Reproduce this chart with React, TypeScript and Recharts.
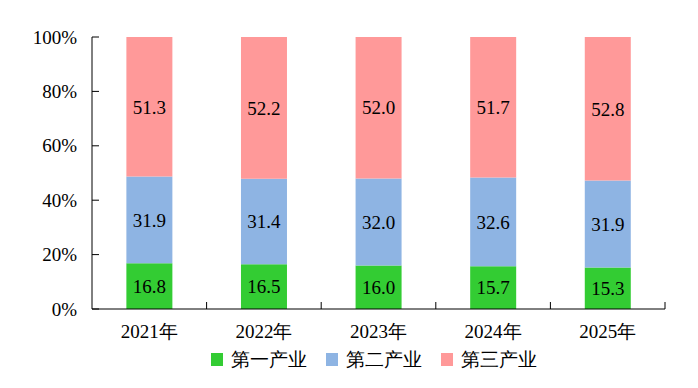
import React from 'react';
import { BarChart, Bar, XAxis, YAxis, LabelList, Legend } from 'recharts';

const categories = ['2021年', '2022年', '2023年', '2024年', '2025年'];
const primary = [16.8, 16.5, 16.0, 15.7, 15.3];
const secondary = [31.9, 31.4, 32.0, 32.6, 31.9];
const tertiary = [51.3, 52.2, 52.0, 51.7, 52.8];
const yTicks = [0, 0.2, 0.4, 0.6, 0.8, 1];
const seriesNames = ['第一产业', '第二产业', '第三产业'];
const seriesKeys = ['primary', 'secondary', 'tertiary'];
const colors = ['#33CC33', '#8EB4E3', '#FF9999'];

const data = categories.map((c, i) => ({
  name: c,
  primary: primary[i],
  secondary: secondary[i],
  tertiary: tertiary[i],
}));

const W = 698;
const H = 388;
const MARGIN = { top: 37, right: 33, left: 0, bottom: 17 };
const Y_AXIS_W = 92;
const X_AXIS_H = 39;
const PLOT_W = W - MARGIN.left - MARGIN.right - Y_AXIS_W;
const FONT = '"Liberation Serif"';
const FS = 19;
const Y_TICK_MARGIN = 15;
const txtStyle = { fontFamily: FONT, fontSize: FS };

const YTick = (props: any) => {
  const { x, y, payload } = props;
  const axisX = x + Y_TICK_MARGIN;
  return (
    <g>
      <line x1={axisX} x2={axisX + 7} y1={y} y2={y} stroke="#000" strokeWidth={1} />
      <text x={x} y={y} dy="0.35em" textAnchor="end" fill="#000" stroke="none" style={txtStyle}>
        {`${Math.round(payload.value * 100)}%`}
      </text>
    </g>
  );
};

const XTick = (props: any) => {
  const { x, y, payload } = props;
  const band = PLOT_W / categories.length;
  const bx = x + band / 2;
  return (
    <g>
      <line x1={bx} x2={bx} y1={y} y2={y - 7} stroke="#000" strokeWidth={1} />
      <text x={x} y={y + 29} textAnchor="middle" fill="#000" stroke="none" style={txtStyle}>
        {payload.value}
      </text>
    </g>
  );
};

const LegendContent = () => (
  <div
    style={{
      display: 'flex',
      justifyContent: 'center',
      alignItems: 'center',
      height: 23,
      fontFamily: FONT,
      fontSize: FS,
      color: '#000',
      paddingLeft: 82,
    }}
  >
    {seriesNames.map((n, i) => (
      <div key={n} style={{ display: 'flex', alignItems: 'center', marginRight: i < 2 ? 19 : 0 }}>
        <span style={{ display: 'inline-block', width: 12, height: 13, background: colors[i], marginRight: 8 }} />
        <span style={{ lineHeight: '23px' }}>{n}</span>
      </div>
    ))}
  </div>
);

export default function App() {
  return (
    <div style={{ position: 'absolute', left: 0, top: 0, width: W, height: H, background: '#fff' }}>
      <BarChart width={W} height={H} data={data} margin={MARGIN} stackOffset="expand" barCategoryGap="30%">
        <XAxis
          dataKey="name"
          height={X_AXIS_H}
          axisLine={{ stroke: '#000' }}
          tickLine={false}
          tickSize={0}
          tickMargin={0}
          tick={<XTick />}
          interval={0}
        />
        <YAxis
          width={Y_AXIS_W}
          domain={[0, 1]}
          ticks={yTicks}
          axisLine={{ stroke: '#000' }}
          tickLine={false}
          tickSize={0}
          tickMargin={Y_TICK_MARGIN}
          tick={<YTick />}
          interval={0}
        />
        <Legend verticalAlign="bottom" content={<LegendContent />} height={23} />
        {seriesKeys.map((k, i) => (
          <Bar key={k} dataKey={k} name={seriesNames[i]} stackId="a" fill={colors[i]} isAnimationActive={false}>
            <LabelList
              dataKey={k}
              position="center"
              formatter={(v: any) => Number(v).toFixed(1)}
              fill="#000"
              stroke="none"
              style={txtStyle}
              fontFamily={FONT}
              fontSize={FS}
            />
          </Bar>
        ))}
      </BarChart>
    </div>
  );
}
